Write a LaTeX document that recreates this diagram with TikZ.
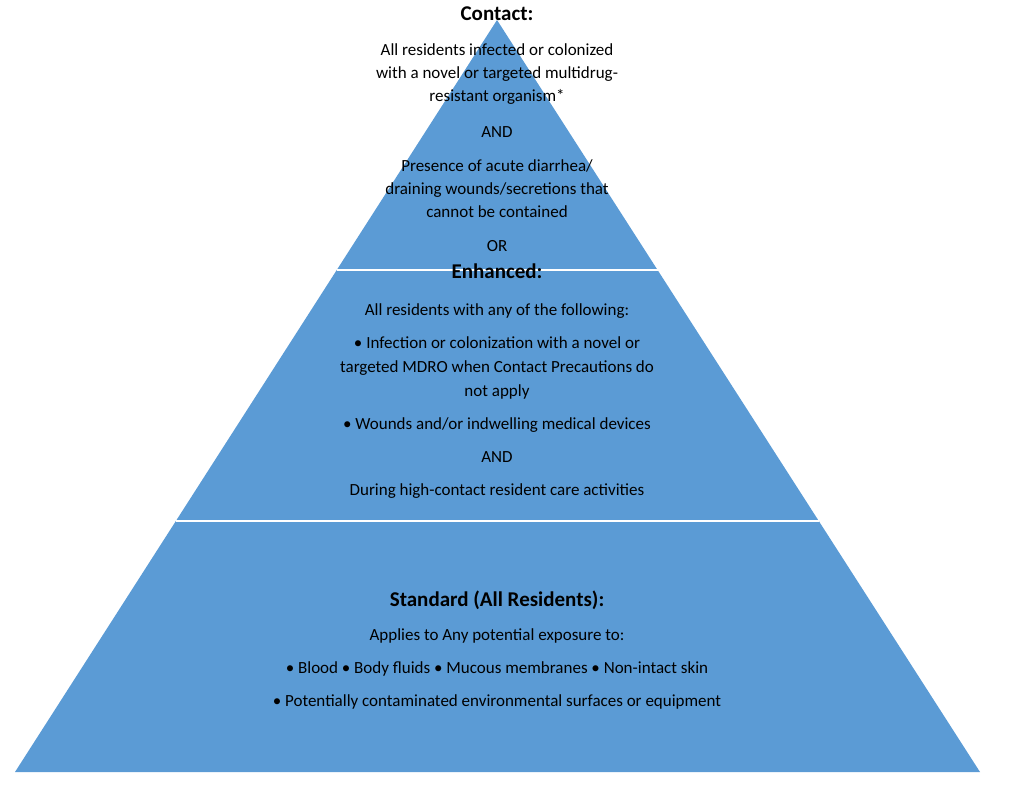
\documentclass[tikz,border=0pt]{standalone}
\usepackage{fontspec}
\setmainfont{Carlito}
\begin{document}
\begin{tikzpicture}[x=1pt,y=-1pt,
  txt/.style={font=\fontsize{17}{20}\selectfont, text=black, inner sep=0pt, anchor=base},
  ttl/.style={font=\fontsize{21}{24}\selectfont\bfseries, text=black, inner sep=0pt, anchor=base}]
\useasboundingbox (0,0) rectangle (1024,789);
\definecolor{pyr}{HTML}{5B9BD5}
\fill[pyr] (497,20) -- (980,772) -- (15,772) -- cycle;
\draw[white,line width=2pt] (337,270) -- (659,270);
\draw[white,line width=2pt] (176,521) -- (819,521);
\node[ttl] (c0) at (497,21) {Contact:};
\node[txt] (c1) at (497,56) {All residents infected or colonized};
\node[txt] (c2) at (497,79) {with a novel or targeted multidrug-};
\node[txt] (c3) at (497,102) {resistant organism*};
\node[txt] (c4) at (497,137) {AND};
\node[txt] (c5) at (497,171) {Presence of acute diarrhea/};
\node[txt] (c6) at (497,194) {draining wounds/secretions that};
\node[txt] (c7) at (497,217) {cannot be contained};
\node[txt] (c8) at (497,251) {OR};
\node[ttl] (e0) at (497,278) {Enhanced:};
\node[txt] (e1) at (497,315) {All residents with any of the following:};
\node[txt] (e2) at (497,348) {• Infection or colonization with a novel or};
\node[txt] (e3) at (497,372) {targeted MDRO when Contact Precautions do};
\node[txt] (e4) at (497,396) {not apply};
\node[txt] (e5) at (497,429) {• Wounds and/or indwelling medical devices};
\node[txt] (e6) at (497,462) {AND};
\node[txt] (e7) at (497,495) {During high-contact resident care activities};
\node[ttl] (s0) at (497,606) {Standard (All Residents):};
\node[txt] (s1) at (497,640) {Applies to Any potential exposure to:};
\node[txt] (s2) at (497,673) {• Blood • Body fluids • Mucous membranes • Non-intact skin};
\node[txt] (s3) at (497,706) {• Potentially contaminated environmental surfaces or equipment};
\end{tikzpicture}
\end{document}
